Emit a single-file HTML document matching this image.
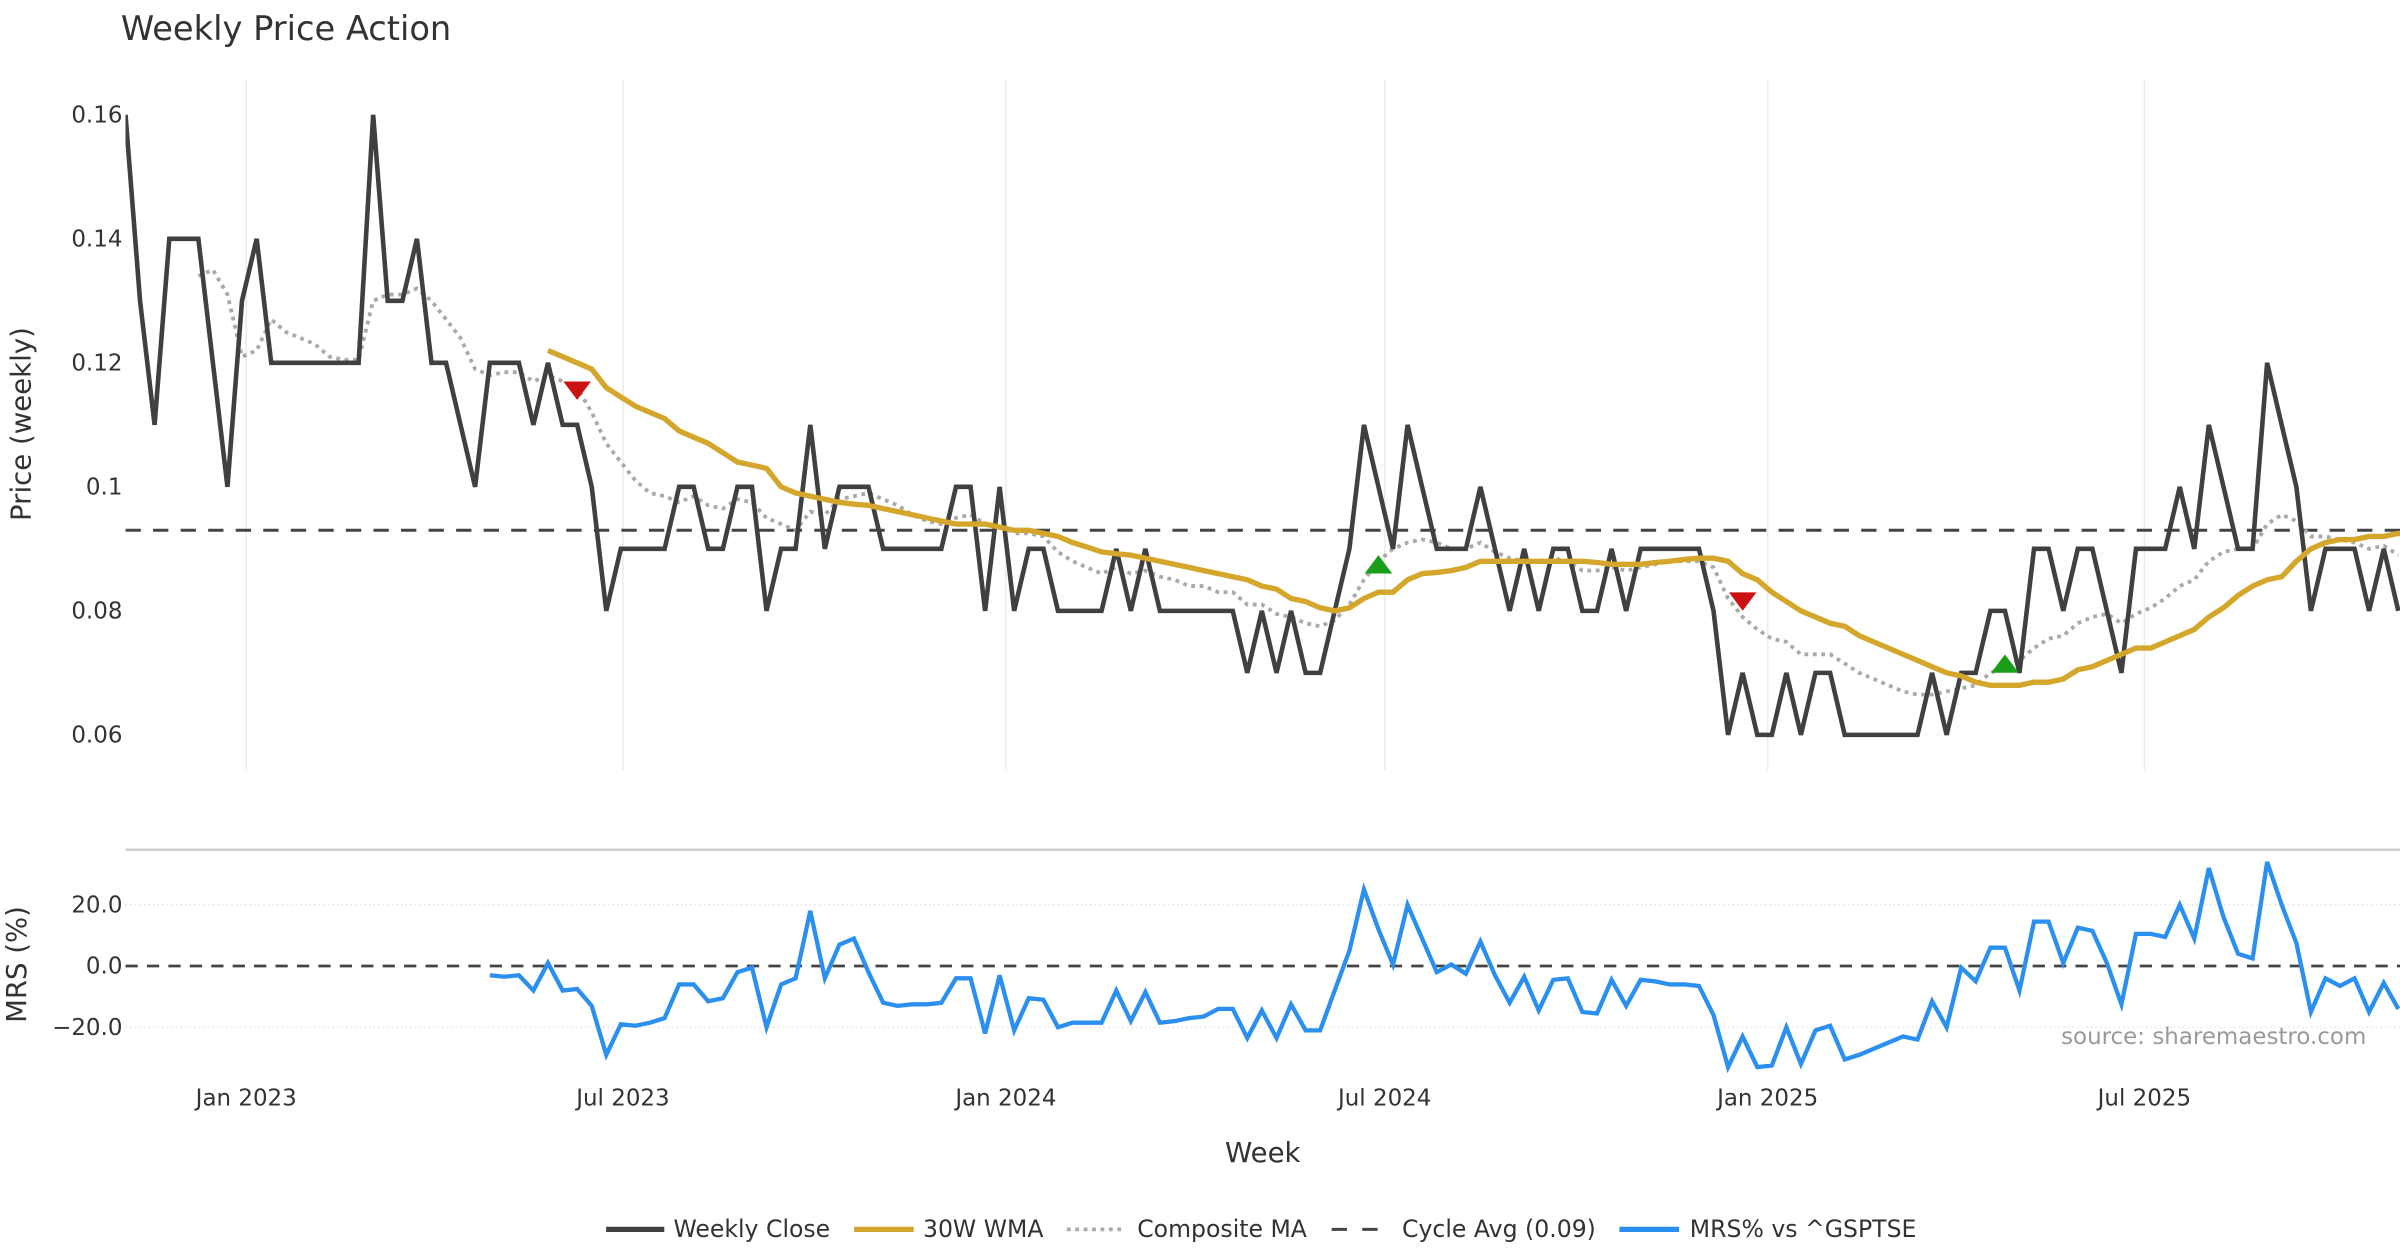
<!DOCTYPE html>
<html><head><meta charset="utf-8"><style>
html,body{margin:0;padding:0;background:#fff;}
svg{display:block;font-family:"DejaVu Sans","Liberation Sans",sans-serif;}
</style></head><body>
<svg id="chart" width="2400" height="1260" viewBox="0 0 1568 823" preserveAspectRatio="none" xmlns="http://www.w3.org/2000/svg">
<defs><clipPath id="clipP"><rect x="82" y="40" width="1486" height="470"/></clipPath>
<clipPath id="clipM"><rect x="82" y="556" width="1486" height="150"/></clipPath></defs>
<rect width="1568" height="823" fill="#fff"/>
<text x="79" y="26" font-size="22" fill="#333">Weekly Price Action</text>
<g id="grid"></g>
<g id="price" clip-path="url(#clipP)"></g>
<g id="mrs" clip-path="url(#clipM)"></g>
<g id="axes"></g>
<text x="20" y="277" font-size="18" fill="#333" text-anchor="middle" transform="rotate(-90 20 277)">Price (weekly)</text>
<text x="17" y="630" font-size="18" fill="#333" text-anchor="middle" transform="rotate(-90 17 630)">MRS (%)</text>
<text x="825" y="759" font-size="18" fill="#333" text-anchor="middle">Week</text>
<text x="1546" y="682" font-size="15" fill="#999" text-anchor="end">source: sharemaestro.com</text>
<g id="legend" font-size="15.4" fill="#333">
<g><line x1="396" y1="803" x2="434" y2="803" stroke="#404040" stroke-width="3.5"/><text x="440" y="808">Weekly Close</text></g>
<g><line x1="558" y1="803" x2="597" y2="803" stroke="#d4a72c" stroke-width="3.5"/><text x="603" y="808">30W WMA</text></g>
<g><line x1="697" y1="803" x2="735" y2="803" stroke="#aaa" stroke-width="2.5" stroke-dasharray="2.5 3"/><text x="743" y="808">Composite MA</text></g>
<g><line x1="870" y1="803" x2="908" y2="803" stroke="#444" stroke-width="2" stroke-dasharray="10 10"/><text x="916" y="808">Cycle Avg (0.09)</text></g>
<g><line x1="1058" y1="803" x2="1097" y2="803" stroke="#2b8ff0" stroke-width="3.5"/><text x="1104" y="808">MRS% vs ^GSPTSE</text></g>
</g>
</svg>
<script>
const startDate = Date.UTC(2022,10,4);
const closeVals = [0.16,0.13,0.11,0.14,0.14,0.14,0.12,0.10,0.13,0.14,0.12,0.12,0.12,0.12,0.12,0.12,0.12,0.16,0.13,0.13,0.14,0.12,0.12,0.11,0.10,0.12,0.12,0.12,0.11,0.12,0.11,0.11,0.10,0.08,0.09,0.09,0.09,0.09,0.10,0.10,0.09,0.09,0.10,0.10,0.08,0.09,0.09,0.11,0.09,0.10,0.10,0.10,0.09,0.09,0.09,0.09,0.09,0.10,0.10,0.08,0.10,0.08,0.09,0.09,0.08,0.08,0.08,0.08,0.09,0.08,0.09,0.08,0.08,0.08,0.08,0.08,0.08,0.07,0.08,0.07,0.08,0.07,0.07,0.08,0.09,0.11,0.10,0.09,0.11,0.10,0.09,0.09,0.09,0.10,0.09,0.08,0.09,0.08,0.09,0.09,0.08,0.08,0.09,0.08,0.09,0.09,0.09,0.09,0.09,0.08,0.06,0.07,0.06,0.06,0.07,0.06,0.07,0.07,0.06,0.06,0.06,0.06,0.06,0.06,0.07,0.06,0.07,0.07,0.08,0.08,0.07,0.09,0.09,0.08,0.09,0.09,0.08,0.07,0.09,0.09,0.09,0.10,0.09,0.11,0.10,0.09,0.09,0.12,0.11,0.10,0.08,0.09,0.09,0.09,0.08,0.09,0.08];
const wmaStart = 29;
const wmaVals = [0.122,0.121,0.120,0.119,0.116,0.1145,0.113,0.112,0.111,0.109,0.108,0.107,0.1055,0.104,0.1035,0.103,0.100,0.099,0.0985,0.098,0.0975,0.0972,0.097,0.0965,0.096,0.0955,0.095,0.0945,0.094,0.094,0.094,0.0935,0.093,0.093,0.0925,0.092,0.091,0.0903,0.0895,0.0892,0.089,0.0885,0.088,0.0875,0.087,0.0865,0.086,0.0855,0.085,0.084,0.0835,0.082,0.0815,0.0805,0.080,0.0805,0.082,0.083,0.083,0.085,0.086,0.0862,0.0865,0.087,0.088,0.088,0.088,0.088,0.088,0.088,0.088,0.088,0.0878,0.0875,0.0875,0.0875,0.0878,0.088,0.0883,0.0885,0.0885,0.088,0.086,0.085,0.083,0.0815,0.080,0.079,0.078,0.0775,0.076,0.075,0.074,0.073,0.072,0.071,0.070,0.0695,0.0685,0.068,0.068,0.068,0.0685,0.0685,0.069,0.0705,0.071,0.072,0.073,0.074,0.074,0.075,0.076,0.077,0.079,0.0805,0.0825,0.084,0.085,0.0855,0.088,0.090,0.091,0.0915,0.0915,0.092,0.092,0.0925,0.092,0.0915];
const compStart = 5;
const compVals = [0.134,0.135,0.131,0.121,0.122,0.127,0.125,0.124,0.123,0.121,0.1205,0.1205,0.130,0.131,0.131,0.132,0.130,0.127,0.124,0.119,0.118,0.1185,0.1185,0.117,0.118,0.117,0.116,0.112,0.107,0.104,0.101,0.099,0.0985,0.0975,0.0985,0.097,0.0965,0.098,0.0975,0.095,0.094,0.093,0.096,0.0955,0.098,0.0985,0.099,0.098,0.097,0.0955,0.0945,0.094,0.095,0.0955,0.094,0.094,0.0925,0.0925,0.092,0.0895,0.088,0.087,0.086,0.087,0.086,0.0865,0.0855,0.085,0.084,0.084,0.083,0.083,0.081,0.081,0.0795,0.079,0.078,0.0775,0.0785,0.081,0.085,0.088,0.090,0.091,0.0915,0.091,0.090,0.090,0.091,0.0895,0.0885,0.088,0.088,0.0885,0.088,0.0865,0.0865,0.087,0.0865,0.087,0.0875,0.088,0.088,0.088,0.087,0.082,0.079,0.077,0.0755,0.075,0.073,0.073,0.073,0.0715,0.070,0.069,0.068,0.067,0.0665,0.0665,0.067,0.0675,0.068,0.070,0.071,0.072,0.074,0.0755,0.076,0.078,0.079,0.0795,0.078,0.0795,0.0805,0.082,0.084,0.085,0.088,0.0895,0.090,0.090,0.094,0.0955,0.0945,0.092,0.092,0.0915,0.091,0.090,0.0905,0.089];
const mrsStart = 25;
const mrsVals = [-3,-3.5,-3,-8,1,-8,-7.5,-13,-29,-19,-19.5,-18.5,-17,-6,-6,-11.5,-10.5,-2,-0.5,-20,-6,-4,18,-4,7,9,-2,-12,-13,-12.5,-12.5,-12,-4,-4,-22,-3,-21,-10.5,-11,-20,-18.5,-18.5,-18.5,-8,-18,-8.5,-18.5,-18,-17,-16.5,-14,-14,-23.5,-14.5,-23.5,-12.5,-21,-21,-8,5,25,12,0.5,20,9,-2,0.5,-2.5,8,-3,-12,-3.5,-14.5,-4.5,-4,-15,-15.5,-4.5,-13,-4.5,-5,-6,-6,-6.5,-16,-33,-23,-33,-32.5,-20,-32,-21,-19.5,-30.5,-29,-27,-25,-23,-24,-11.5,-20,-0.5,-5,6,6,-8,14.5,14.5,1,12.5,11.5,1,-12.5,10.5,10.5,9.5,20,9,32,16,4,2.5,34,20,7.5,-15,-4,-6.5,-4,-15,-5.5,-14];
const signalWeeks = [31,111,86,129];
const signalPrices = [0.1155,0.0815,0.0875,0.0715];
const signalTypes = ['sell','sell','buy','buy'];
const cycleAvg = 0.093;
const priceTicks = [0.06,0.08,0.1,0.12,0.14,0.16];
const priceTickLabels = ['0.06','0.08','0.1','0.12','0.14','0.16'];
const mrsTicks = [-20,0,20];
const mrsTickLabels = ['\u221220.0','0.0','20.0'];
const xTickDates = [[2023,0],[2023,6],[2024,0],[2024,6],[2025,0],[2025,6]];
const xTickLabels = ['Jan 2023','Jul 2023','Jan 2024','Jul 2024','Jan 2025','Jul 2025'];

const NS='http://www.w3.org/2000/svg';
const pxPerDay = 994/731;
function xDate(ms){return 82 + (ms-startDate)/86400000*pxPerDay;}
function xWeek(i){return xDate(startDate + i*7*86400000);}
function yPrice(v){return 480 - (v-0.06)/0.02*81;}
function yMrs(v){return 631 - v*2;}
function mk(tag,attrs,parent){const e=document.createElementNS(NS,tag);for(const k in attrs)e.setAttribute(k,attrs[k]);parent.appendChild(e);return e;}
const grid=document.getElementById('grid'),price=document.getElementById('price'),mrs=document.getElementById('mrs'),axes=document.getElementById('axes');

xTickDates.forEach((d,i)=>{
  const x=xDate(Date.UTC(d[0],d[1],1));
  const g1=mk('line',{x1:x,y1:52,x2:x,y2:503,stroke:'#ececec','stroke-width':1},grid);
  
  
  const t=mk('text',{x:x,y:722,'font-size':15,fill:'#333','text-anchor':'middle'},axes);
  t.textContent=xTickLabels[i];
  
  
});
priceTicks.forEach((v,i)=>{
  const t=mk('text',{x:80,y:yPrice(v)+5,'font-size':15,fill:'#333','text-anchor':'end'},axes);
  t.textContent=priceTickLabels[i];
  
  
});
mrsTicks.forEach((v,i)=>{
  if(v!==0){const gl=mk('line',{x1:82,y1:yMrs(v),x2:1568,y2:yMrs(v),stroke:'#e6e6e6','stroke-width':1,'stroke-dasharray':'1 2'},grid);
  
  }
  const t=mk('text',{x:80,y:yMrs(v)+5,'font-size':15,fill:'#333','text-anchor':'end'},axes);
  t.textContent=mrsTickLabels[i];
  
  
});
const sep=mk('line',{x1:82,y1:555,x2:1568,y2:555,stroke:'#ccc','stroke-width':1.5},grid);



function path(vals,start,ys){return vals.map((v,i)=>(i?'L':'M')+xWeek(start+i).toFixed(1)+' '+ys(v).toFixed(1)).join(' ');}

const cyc=mk('line',{x1:82,y1:yPrice(cycleAvg),x2:1568,y2:yPrice(cycleAvg),stroke:'#444','stroke-width':2,'stroke-dasharray':'10 8'},price);


const comp=mk('path',{d:path(compVals,compStart,yPrice),fill:'none',stroke:'#aaa','stroke-width':2.5,'stroke-dasharray':'2.5 3'},price);


const cl=mk('path',{d:path(closeVals,0,yPrice),fill:'none',stroke:'#404040','stroke-width':3,'stroke-linejoin':'miter'},price);


const wma=mk('path',{d:path(wmaVals,wmaStart,yPrice),fill:'none',stroke:'#d4a72c','stroke-width':3.5},price);


signalWeeks.forEach((w,i)=>{
  const x=xWeek(w),y=yPrice(signalPrices[i]);
  const pts=signalTypes[i]==='sell'?`${x-9},${y-6} ${x+9},${y-6} ${x},${y+6}`:`${x-9},${y+6} ${x+9},${y+6} ${x},${y-6}`;
  const p=mk('polygon',{points:pts,fill:signalTypes[i]==='sell'?'#cc1111':'#1a9e1a'},price);
  
  
});
const z=mk('line',{x1:82,y1:yMrs(0),x2:1568,y2:yMrs(0),stroke:'#444','stroke-width':1.8,'stroke-dasharray':'8 6'},mrs);


const m=mk('path',{d:path(mrsVals,mrsStart,yMrs),fill:'none',stroke:'#2b8ff0','stroke-width':2.8},mrs);


</script>
</body></html>
